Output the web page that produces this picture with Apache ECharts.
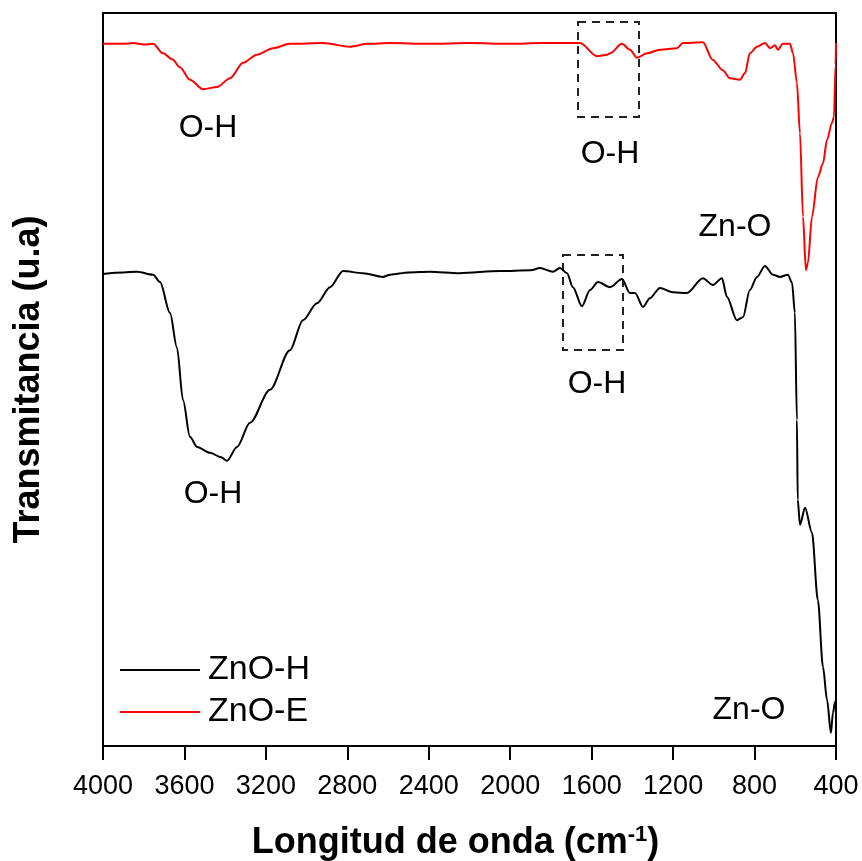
<!DOCTYPE html>
<html>
<head>
<meta charset="utf-8">
<script src="https://cdn.jsdelivr.net/npm/echarts@6/dist/echarts.min.js"></script>
<style>
	html, body { margin: 0; padding: 0; background: #fff; }
	#chart { width: 862px; height: 861px; }
</style>
</head>
<body>
<div id="chart"></div>
<script>
	// eje x: numero de onda (cm-1), invertido
	const xMin = 400
	const xMax = 4000
	const xStep = 400

	// ZnO-H (negro)
	const wnH = [4000, 3900, 3833, 3754, 3720, 3671, 3637, 3607, 3573, 3538, 3475, 3420, 3391, 3342, 3278, 3180, 3082, 3018, 2949, 2885, 2821, 2723, 2625, 2590, 2500, 2394, 2250, 2050, 1900, 1854, 1790, 1756, 1721, 1692, 1648, 1608, 1569, 1510, 1451, 1412, 1387, 1348, 1314, 1265, 1201, 1132, 1054, 1005, 960, 936, 887, 857, 823, 788, 749, 710, 675, 636, 616, 602, 592, 588, 577, 552, 518, 489, 464, 444, 425, 415, 405, 400]
	const tH = [64.4, 64.6, 64.7, 64.3, 63.3, 59.1, 54.4, 47.2, 42.2, 40.8, 40.0, 39.4, 38.9, 40.8, 44.1, 48.6, 54.0, 58.1, 60.4, 62.6, 64.8, 64.5, 64.0, 64.3, 64.6, 64.7, 64.5, 64.8, 64.9, 65.2, 64.7, 65.2, 64.5, 62.6, 60.0, 62.2, 63.3, 62.6, 63.7, 61.8, 61.8, 59.9, 61.1, 62.5, 61.9, 61.8, 63.8, 62.9, 63.8, 61.3, 58.1, 58.5, 62.2, 64.0, 65.5, 64.3, 64.0, 64.3, 63.2, 59.1, 44.5, 33.6, 30.2, 32.5, 29.1, 19.9, 10.8, 6.3, 1.8, 4.5, 6.0, 6.2]

	// ZnO-E (rojo)
	const wnE = [4000, 3900, 3850, 3800, 3754, 3705, 3660, 3622, 3573, 3509, 3440, 3376, 3312, 3244, 3165, 3082, 2920, 2787, 2700, 2590, 2400, 2200, 2000, 1850, 1756, 1657, 1574, 1525, 1510, 1451, 1412, 1377, 1328, 1265, 1181, 1152, 1054, 1005, 956, 921, 872, 847, 823, 788, 749, 724, 700, 685, 661, 626, 611, 592, 577, 562, 548, 538, 518, 489, 464, 444, 420, 410, 402, 400]
	const tE = [95.8, 95.8, 95.9, 95.7, 95.8, 94.5, 93.7, 92.6, 90.9, 89.6, 89.9, 91.1, 93.2, 94.3, 95.2, 95.8, 95.9, 95.4, 95.8, 95.9, 95.8, 95.9, 95.8, 95.9, 95.9, 95.9, 94.1, 94.3, 94.5, 95.8, 95.0, 93.9, 94.5, 95.0, 95.2, 95.9, 96.0, 93.6, 92.2, 91.1, 90.9, 91.8, 94.5, 95.4, 95.9, 95.2, 95.6, 95.0, 95.8, 95.8, 94.5, 90.5, 83.6, 72.2, 64.9, 65.9, 72.2, 77.6, 79.5, 82.7, 85.0, 85.8, 93.0, 95.9]

	const font = '"Liberation Sans", Arial, sans-serif'

	function etiqueta(txt, x, y) {
		return { type: 'text', x: x, y: y, style: { text: txt, fontSize: 32, fontFamily: font, fill: '#000', align: 'center', verticalAlign: 'middle' } }
	}

	let mychart = echarts.init(document.getElementById('chart'))
	mychart.setOption({
		animation: false,
		textStyle: {
			fontFamily: font,
			color: '#000'
		},
		grid: {
			left: 103,
			right: 26,
			top: 13,
			bottom: 115,
			outerBoundsMode: 'none',
			containLabel: false,
			show: true,
			borderColor: '#000',
			borderWidth: 2
		},
		legend: {
			orient: 'vertical',
			left: 115,
			top: 648,
			itemWidth: 80,
			itemHeight: 2,
			itemGap: 8,
			icon: 'rect',
			textStyle: {
				fontSize: 34,
				color: '#000',
				padding: [0, 0, 0, 3]
			},
			data: ['ZnO-H', 'ZnO-E']
		},
		xAxis: {
			type: 'value',
			min: xMin,
			max: xMax,
			interval: xStep,
			inverse: true,
			name: 'Longitud de onda (cm{sup|-1})',
			nameLocation: 'middle',
			nameGap: 78,
			nameTextStyle: {
				fontSize: 36,
				fontWeight: 'bold',
				color: '#000',
				padding: [0, 28, 0, 0],
				rich: {
					sup: {
						fontSize: 22,
						fontWeight: 'bold',
						verticalAlign: 'top',
						padding: [0, 0, 16, 0]
					}
				}
			},
			axisLine: { lineStyle: { color: '#000', width: 2 } },
			axisTick: { inside: false, length: 14, lineStyle: { color: '#000', width: 2 } },
			axisLabel: {
				fontSize: 27,
				color: '#000',
				margin: 27,
				formatter: v => String(v)
			},
			splitLine: { show: false }
		},
		yAxis: {
			type: 'value',
			min: 0,
			max: 100,
			name: 'Transmitancia (u.a)',
			nameLocation: 'middle',
			nameGap: 56,
			nameRotate: 90,
			nameTextStyle: {
				fontSize: 36,
				fontWeight: 'bold',
				color: '#000'
			},
			axisLine: { show: true, lineStyle: { color: '#000', width: 2 } },
			axisTick: { show: false },
			axisLabel: { show: false },
			splitLine: { show: false }
		},
		graphic: [
			{ type: 'rect', shape: { x: 578, y: 22, width: 61, height: 95 }, style: { fill: 'none', stroke: '#222', lineWidth: 2, lineDash: [8, 6] } },
			{ type: 'rect', shape: { x: 563, y: 255, width: 60, height: 95 }, style: { fill: 'none', stroke: '#222', lineWidth: 2, lineDash: [8, 6] } },
			etiqueta('O-H', 208, 128),
			etiqueta('O-H', 610, 154),
			etiqueta('Zn-O', 735, 227),
			etiqueta('O-H', 213, 494),
			etiqueta('O-H', 597, 384),
			etiqueta('Zn-O', 749, 710)
		],
		series: [
			{
				name: 'ZnO-H',
				type: 'line',
				showSymbol: false,
				smooth: 0.3,
				smoothMonotone: 'x',
				color: '#000',
				lineStyle: { color: '#000', width: 2 },
				data: wnH.map((w, i) => [w, tH[i]])
			},
			{
				name: 'ZnO-E',
				type: 'line',
				showSymbol: false,
				smooth: 0.3,
				smoothMonotone: 'x',
				color: '#ff0000',
				lineStyle: { color: '#ff0000', width: 2 },
				data: wnE.map((w, i) => [w, tE[i]])
			}
		]
	})
</script>
</body>
</html>
